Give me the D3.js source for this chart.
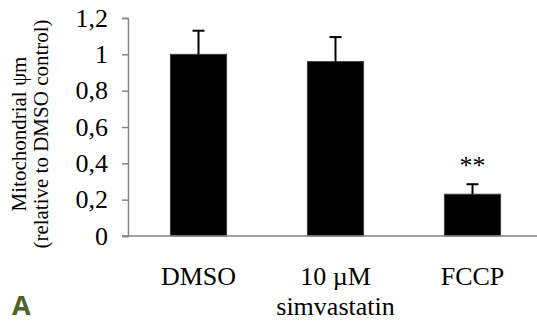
<!DOCTYPE html>
<html>
<head>
<meta charset="utf-8">
<script src="https://cdn.jsdelivr.net/npm/d3@7"></script>
<style>
  body { margin: 0; background: #fff; }
  svg text, svg tspan { font-family: "Liberation Serif", "Times New Roman", serif; }
</style>
</head>
<body>
<div class="graph"></div>
<script>
var categories = [["DMSO"], ["10 \u00b5M", "simvastatin"], ["FCCP"]];
var values = [1.0, 0.96, 0.23];
var errors = [0.13, 0.135, 0.055];
var marks = ["", "", "**"];
var yTicks = [0, 0.2, 0.4, 0.6, 0.8, 1, 1.2];

var width = 537,
    height = 324;

var svg = d3.select('.graph').append("svg")
    .attr("width", width)
    .attr("height", height);

var x = d3.scaleBand()
    .domain(d3.range(categories.length))
    .range([130, 541])
    .paddingInner(0.59)
    .paddingOuter(0.295);

var y = d3.scaleLinear()
    .domain([0, 1.2])
    .range([236, 18]);

// y axis
var yAxis = d3.axisLeft(y)
    .tickValues(yTicks)
    .tickSize(6)
    .tickPadding(14)
    .tickFormat(function(d) { return String(d).replace(".", ","); });

var gy = svg.append("g")
    .attr("transform", "translate(128,0)")
    .call(yAxis);
gy.select(".domain").attr("stroke", "#868686").attr("stroke-width", 1.5);
gy.selectAll(".tick line").attr("stroke", "#868686").attr("stroke-width", 1.5);
gy.selectAll(".tick text")
    .style("font-family", '"Liberation Serif", serif')
    .style("font-size", "26px")
    .style("fill", "#000");

// bars
svg.append("g")
    .selectAll("rect")
    .data(values)
    .enter().append("rect")
    .attr("x", function(d, i) { return x(i); })
    .attr("y", function(d) { return y(d); })
    .attr("width", x.bandwidth())
    .attr("height", function(d) { return y(0) - y(d); })
    .attr("fill", "#000")
    .attr("stroke", "#404040")
    .attr("stroke-width", 1);

// x axis line
svg.append("line")
    .attr("x1", 122)
    .attr("x2", width)
    .attr("y1", y(0))
    .attr("y2", y(0))
    .attr("stroke", "#868686")
    .attr("stroke-width", 1.5);

// error bars
var err = svg.append("g")
    .attr("stroke", "#000")
    .attr("stroke-width", 2);

values.forEach(function(v, i) {
    var cx = x(i) + x.bandwidth() / 2;
    err.append("line")
        .attr("x1", cx).attr("x2", cx)
        .attr("y1", y(v)).attr("y2", y(v + errors[i]));
    err.append("line")
        .attr("x1", cx - 6).attr("x2", cx + 6)
        .attr("y1", y(v + errors[i])).attr("y2", y(v + errors[i]));
});

// significance
svg.append("g")
    .selectAll("text")
    .data(marks)
    .enter().append("text")
    .attr("x", function(d, i) { return x(i) + x.bandwidth() / 2; })
    .attr("y", function(d, i) { return y(values[i] + errors[i]) - 10; })
    .attr("text-anchor", "middle")
    .style("font-size", "26px")
    .text(function(d) { return d; });

// category labels
var cat = svg.append("g")
    .selectAll("text")
    .data(categories)
    .enter().append("text")
    .attr("x", function(d, i) { return x(i) + x.bandwidth() / 2; })
    .attr("y", 285)
    .attr("text-anchor", "middle")
    .style("font-size", "26px");

cat.selectAll("tspan")
    .data(function(d) { return d; })
    .enter().append("tspan")
    .attr("x", function() { return d3.select(this.parentNode).attr("x"); })
    .attr("dy", function(d, i) { return i ? 30 : 0; })
    .text(function(d) { return d; });

// y label
svg.append("text")
    .attr("transform", "translate(26,134) rotate(-90)")
    .attr("text-anchor", "middle")
    .style("font-size", "21px")
    .selectAll("tspan")
    .data(["Mitochondrial \u03c8m", "(relative to DMSO control)"])
    .enter().append("tspan")
    .attr("x", 0)
    .attr("dy", function(d, i) { return i ? 22 : 0; })
    .text(function(d) { return d; });

// panel letter
svg.append("text")
    .attr("x", 12)
    .attr("y", 315)
    .style("font-family", '"Open Sans", "Liberation Sans", sans-serif')
    .style("font-weight", "bold")
    .style("font-size", "27px")
    .style("fill", "#4f6228")
    .text("A");
</script>
</body>
</html>
